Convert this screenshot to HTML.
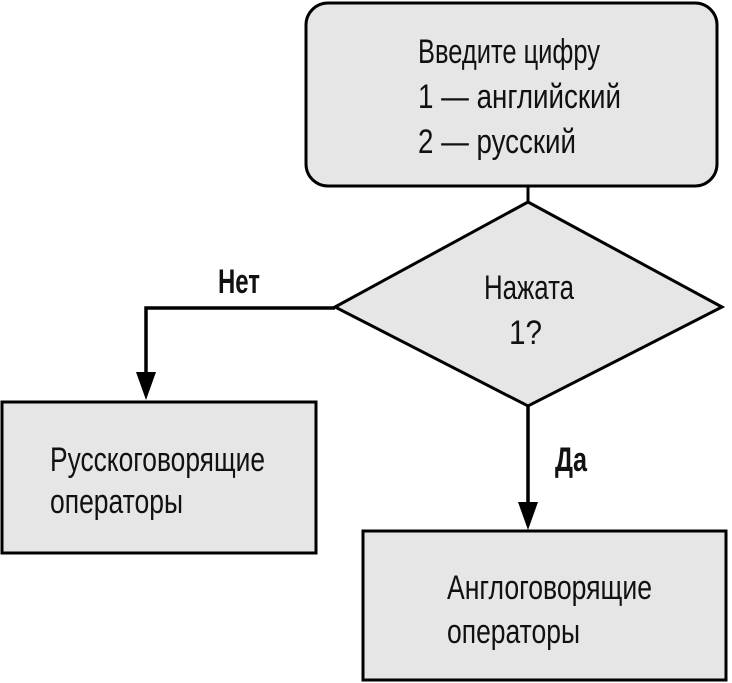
<!DOCTYPE html>
<html><head><meta charset="utf-8"><style>
html,body{margin:0;padding:0;background:#fff;}
svg{display:block}
text{font-family:"Liberation Sans Narrow","Liberation Sans","DejaVu Sans",sans-serif;font-size:34px;fill:#111}
.b{font-weight:bold}
</style></head><body>
<svg width="732" height="683" viewBox="0 0 732 683" xmlns="http://www.w3.org/2000/svg">
<rect x="306" y="3" width="411" height="183" rx="22" ry="22" fill="#e6e6e6" stroke="#000" stroke-width="3"/>
<text x="418" y="63" textLength="182" lengthAdjust="spacingAndGlyphs">Введите цифру</text>
<text x="418" y="108" textLength="203" lengthAdjust="spacingAndGlyphs">1 — английский</text>
<text x="418" y="153" textLength="158" lengthAdjust="spacingAndGlyphs">2 — русский</text>
<line x1="528" y1="186" x2="528" y2="202" stroke="#000" stroke-width="3"/>
<polygon points="528,202 722,307 528,406 335,307" fill="#e6e6e6" stroke="#000" stroke-width="3"/>
<text x="484" y="299" textLength="90" lengthAdjust="spacingAndGlyphs">Нажата</text>
<text x="509" y="344" textLength="33" lengthAdjust="spacingAndGlyphs">1?</text>
<polyline points="335,308 146,308 146,374" fill="none" stroke="#000" stroke-width="3.5"/>
<polygon points="136,372 156,372 146,400" fill="#000"/>
<text class="b" x="218" y="293" textLength="42" lengthAdjust="spacingAndGlyphs">Нет</text>
<line x1="528" y1="406" x2="528" y2="504" stroke="#000" stroke-width="3.5"/>
<polygon points="518,502 538,502 528,530" fill="#000"/>
<text class="b" x="555" y="471" textLength="32" lengthAdjust="spacingAndGlyphs">Да</text>
<rect x="2" y="402" width="314" height="151" fill="#e6e6e6" stroke="#000" stroke-width="3"/>
<text x="50" y="471" textLength="215" lengthAdjust="spacingAndGlyphs">Русскоговорящие</text>
<text x="50" y="513" textLength="133" lengthAdjust="spacingAndGlyphs">операторы</text>
<rect x="363" y="531" width="363" height="149" fill="#e6e6e6" stroke="#000" stroke-width="3"/>
<text x="447" y="599" textLength="205" lengthAdjust="spacingAndGlyphs">Англоговорящие</text>
<text x="447" y="643" textLength="133" lengthAdjust="spacingAndGlyphs">операторы</text>
</svg>
</body></html>
